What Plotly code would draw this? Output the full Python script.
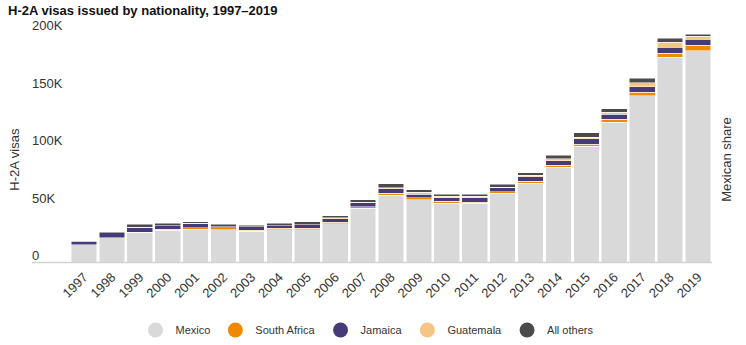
import plotly.graph_objects as go

years = [str(y) for y in range(1997, 2020)]

# H-2A visas issued, thousands
mexico = [15.3, 21.7, 26.6, 28.1, 29.0, 28.7, 27.2, 28.7, 28.7, 33.9, 47.2, 58.8,
          54.8, 51.6, 51.6, 60.5, 69.2, 82.9, 101.4, 122.3, 145.5, 179.0, 184.6]
south_africa = [0.0, 0.0, 0.0, 1.0, 1.4, 1.7, 0.9, 1.2, 1.2, 1.2, 1.2, 1.7,
                1.7, 1.7, 0.9, 1.2, 1.7, 1.7, 1.7, 2.6, 2.9, 3.2, 4.9]
jamaica = [3.0, 4.3, 4.0, 3.0, 3.8, 0.9, 2.9, 2.0, 2.9, 2.9, 4.3, 3.8,
           2.9, 3.2, 4.1, 3.5, 3.8, 4.1, 4.9, 4.3, 4.9, 5.5, 4.9]
guatemala = [0.0, 0.0, 0.0, 0.0, 0.0, 0.0, 0.0, 0.0, 0.0, 1.2, 0.0, 0.9,
             1.7, 1.2, 1.2, 0.3, 1.2, 1.7, 1.2, 1.7, 3.2, 4.1, 2.9]
all_others = [0.3, 0.7, 2.6, 2.2, 1.2, 2.0, 1.7, 2.3, 2.6, 1.7, 2.0, 3.5,
              2.3, 1.7, 1.7, 2.9, 2.3, 2.9, 3.8, 2.9, 4.1, 3.8, 1.4]

series = [
    ("Mexico", mexico, "#d9d9d9"),
    ("South Africa", south_africa, "#ef8a00"),
    ("Jamaica", jamaica, "#473a78"),
    ("Guatemala", guatemala, "#f4c584"),
    ("All others", all_others, "#4b4b4b"),
]

tick_vals = [0, 50000, 100000, 150000, 200000]
tick_text = ["0", "50K", "100K", "150K", "200K"]

FONT = "Liberation Sans, Arial, sans-serif"
TXT = "#333333"

# plot area geometry (px); 1.15 px per thousand visas, baseline at y=263
PX_PER_K = 1.15
BASE_Y = 263
Y_MIN = -3000
M_L, M_R, M_T = 70, 34, 8
M_B = 345 - (BASE_Y + (-Y_MIN / 1000) * PX_PER_K)
PLOT_W = 746 - M_L - M_R
PLOT_H = 345 - M_T - M_B
Y_MAX = Y_MIN + PLOT_H / PX_PER_K * 1000

fig = go.Figure()
for name, vals, color in series:
    fig.add_trace(go.Bar(
        x=years, y=[v * 1000 for v in vals], name=name,
        marker=dict(color=color, line=dict(color="white", width=0.5)),
        showlegend=False,
    ))
# round legend swatches (no visible points)
for name, vals, color in series:
    fig.add_trace(go.Scatter(
        x=[years[0]], y=[None], mode="markers", name=name,
        marker=dict(color=color, size=15, symbol="circle"),
        showlegend=True, hoverinfo="skip",
    ))


def paper_y(py):
    return (345 - M_B - py) / PLOT_H


fig.update_layout(
    width=746, height=345,
    margin=dict(l=M_L, r=M_R, t=M_T, b=M_B),
    barmode="stack", bargap=0.08,
    plot_bgcolor="white", paper_bgcolor="white",
    font=dict(family=FONT, size=13, color=TXT),
    title=dict(
        text="<b>H-2A visas issued by nationality, 1997–2019</b>",
        x=8 / 746, xref="container", xanchor="left",
        y=1 - 6 / 345, yref="container", yanchor="top",
        font=dict(family=FONT, size=13, color="#111111"),
    ),
    xaxis=dict(
        type="category", categoryorder="array", categoryarray=years,
        range=[-0.5, len(years) - 0.5],
        tickangle=-45, ticks="", showgrid=False,
        showline=False, zeroline=False,
        tickfont=dict(size=13, color=TXT),
    ),
    yaxis=dict(
        range=[Y_MIN, Y_MAX], tickvals=tick_vals, ticktext=tick_text,
        ticks="", showgrid=False, zeroline=False, showline=False,
        ticklabelposition="inside top", ticklabelstandoff=-41,
        ticklabelshift=2,
        tickfont=dict(size=13, color=TXT),
    ),
    legend=dict(
        orientation="h", xref="container", yref="container",
        x=367 / 746, xanchor="center", y=15 / 345, yanchor="middle",
        font=dict(size=11, color=TXT), itemsizing="trace",
        traceorder="normal",
    ),
    shapes=[dict(
        type="line", xref="paper", yref="y",
        x0=(32 - M_L) / PLOT_W, x1=1, y0=0, y1=0,
        line=dict(color="#d2d2d2", width=1.5),
    )],
    annotations=[
        dict(text="H-2A visas", textangle=-90, xref="paper", yref="paper",
             x=(15 - M_L) / PLOT_W, y=paper_y(160),
             xanchor="center", yanchor="middle",
             showarrow=False, font=dict(size=13, color=TXT)),
        dict(text="Mexican share", textangle=-90, xref="paper", yref="paper",
             x=(727 - M_L) / PLOT_W, y=paper_y(160),
             xanchor="center", yanchor="middle",
             showarrow=False, font=dict(size=13, color=TXT)),
    ],
)

fig.write_html("out.html")
